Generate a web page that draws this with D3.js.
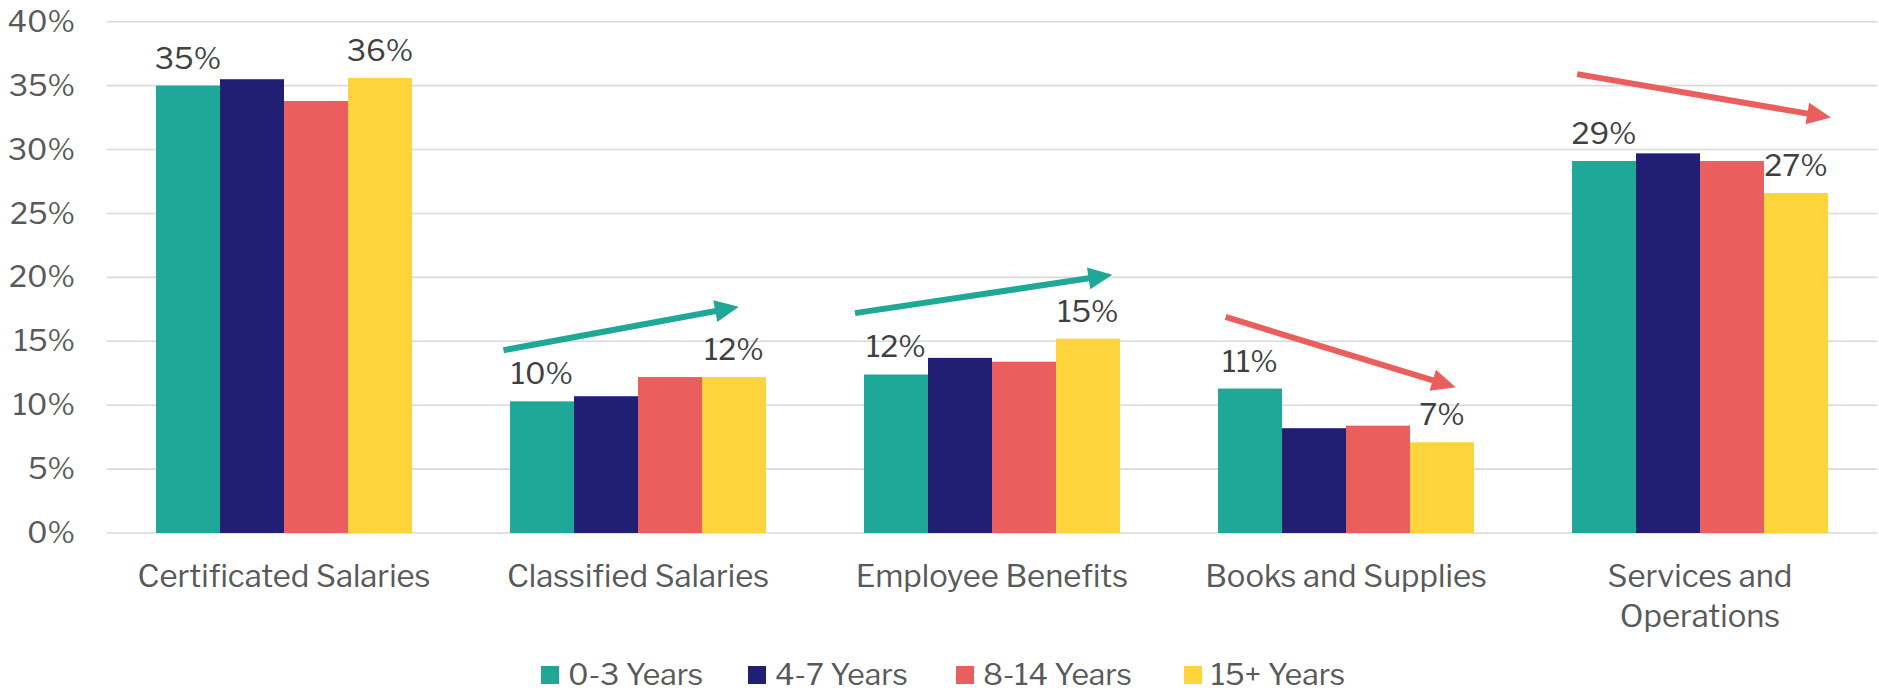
<!DOCTYPE html>
<html>
<head>
<meta charset="utf-8">
<script src="https://cdn.jsdelivr.net/npm/d3@7"></script>
<style>
  body { margin: 0; background: #fff; }
  text { font-family: "Libre Franklin", "Liberation Sans", Arial, sans-serif; }
</style>
</head>
<body>
<div id="chart"></div>
<script>
// categories and series
var categories = ["Certificated Salaries", "Classified Salaries", "Employee Benefits", "Books and Supplies", "Services and Operations"];
var seriesNames = ["0-3 Years", "4-7 Years", "8-14 Years", "15+ Years"];
var seriesColors = ["#1FA898", "#211F73", "#EA5F5E", "#FDD43B"];

// values in percent, one array per series
var years0to3 = [35.0, 10.3, 12.4, 11.3, 29.1];
var years4to7 = [35.5, 10.7, 13.7, 8.2, 29.7];
var years8to14 = [33.8, 12.2, 13.4, 8.4, 29.1];
var years15plus = [35.6, 12.2, 15.2, 7.1, 26.6];

var yTicks = [0, 5, 10, 15, 20, 25, 30, 35, 40];

// trend arrows: category, start/end as fraction of band, start/end value
var arrowCats = ["Classified Salaries", "Employee Benefits", "Books and Supplies", "Services and Operations"];
var arrowFrom = [[0.12, 14.3], [0.113, 17.2], [0.16, 16.9], [0.153, 35.9]];
var arrowTo = [[0.785, 17.7], [0.84, 20.2], [0.81, 11.4], [0.87, 32.5]];
var arrowColors = ["#1FA898", "#1FA898", "#EA5F5E", "#EA5F5E"];

var allValues = [years0to3, years4to7, years8to14, years15plus];

var W = 1879, H = 691;
var margin = { top: 21.7, right: 2, bottom: 158, left: 107 };

var svg = d3.select("#chart").append("svg")
  .attr("width", W)
  .attr("height", H);

var x0 = d3.scaleBand().domain(categories).range([margin.left, W - margin.right]).paddingInner(0).paddingOuter(0);
var x1 = d3.scaleBand().domain(seriesNames).range([0, x0.bandwidth()]).paddingInner(0).paddingOuter(0.766);
var y = d3.scaleLinear().domain([0, 40]).range([H - margin.bottom, margin.top]);
var color = d3.scaleOrdinal().domain(seriesNames).range(seriesColors);

// gridlines
svg.append("g")
  .selectAll("line")
  .data(yTicks)
  .enter()
  .append("line")
  .attr("x1", margin.left)
  .attr("x2", W - margin.right)
  .attr("y1", function (d) { return y(d); })
  .attr("y2", function (d) { return y(d); })
  .attr("stroke", "#D9D9D9")
  .attr("stroke-width", 1.6);

// y axis labels
var yAxis = svg.append("g")
  .attr("transform", "translate(" + 75 + ",0)")
  .call(d3.axisLeft(y).tickValues(yTicks).tickSize(0).tickPadding(0).tickFormat(function (d) { return d + "%"; }));
yAxis.select(".domain").remove();
yAxis.selectAll("text")
  .style("font-size", "30px")
  .attr("fill", "#595959")
  .attr("font-family", null);

// bars
var groups = svg.append("g")
  .selectAll("g")
  .data(seriesNames)
  .enter()
  .append("g")
  .attr("fill", function (d) { return color(d); });

groups.selectAll("rect")
  .data(function (s, si) {
    return categories.map(function (c, ci) { return { cat: c, s: s, v: allValues[si][ci] }; });
  })
  .enter()
  .append("rect")
  .attr("x", function (d) { return x0(d.cat) + x1(d.s); })
  .attr("width", x1.bandwidth())
  .attr("y", function (d) { return y(d.v); })
  .attr("height", function (d) { return y(0) - y(d.v); });

// data labels on first and last series
var labelled = [];
[0, 3].forEach(function (si) {
  categories.forEach(function (c, ci) {
    labelled.push({ cat: c, s: seriesNames[si], v: allValues[si][ci] });
  });
});
svg.append("g")
  .selectAll("text")
  .data(labelled)
  .enter()
  .append("text")
  .attr("x", function (d) { return x0(d.cat) + x1(d.s) + x1.bandwidth() / 2; })
  .attr("y", function (d) { return y(d.v) - 17; })
  .attr("text-anchor", "middle")
  .style("font-size", "30px")
  .attr("fill", "#404040")
  .text(function (d) { return Math.round(d.v) + "%"; });

// category labels (wrap long ones)
var catLabels = svg.append("g")
  .selectAll("text")
  .data(categories)
  .enter()
  .append("text")
  .attr("x", function (d) { return x0(d) + x0.bandwidth() / 2; })
  .attr("y", 587)
  .attr("text-anchor", "middle")
  .style("font-size", "31px")
  .attr("fill", "#595959")
  .text(function (d) { return d; });

catLabels.each(function (d) {
  var t = d3.select(this);
  if (this.getComputedTextLength() > 315) {
    var words = d.split(" ");
    var last = words.pop();
    t.text(null);
    t.append("tspan").attr("x", t.attr("x")).attr("dy", 0).text(words.join(" "));
    t.append("tspan").attr("x", t.attr("x")).attr("dy", 40).text(last);
  }
});

// trend arrows
var arrows = svg.append("g");
arrowCats.forEach(function (c, i) {
  var xa = x0(c) + arrowFrom[i][0] * x0.bandwidth(), ya = y(arrowFrom[i][1]);
  var xb = x0(c) + arrowTo[i][0] * x0.bandwidth(), yb = y(arrowTo[i][1]);
  var ang = Math.atan2(yb - ya, xb - xa);
  var headLen = 24, headW = 11;
  var bx = xb - headLen * Math.cos(ang), by = yb - headLen * Math.sin(ang);
  arrows.append("line")
    .attr("x1", xa).attr("y1", ya)
    .attr("x2", bx + 2 * Math.cos(ang)).attr("y2", by + 2 * Math.sin(ang))
    .attr("stroke", arrowColors[i])
    .attr("stroke-width", 6);
  var px = -Math.sin(ang), py = Math.cos(ang);
  arrows.append("path")
    .attr("d", "M" + xb + "," + yb +
      "L" + (bx + px * headW) + "," + (by + py * headW) +
      "L" + (bx - px * headW) + "," + (by - py * headW) + "Z")
    .attr("fill", arrowColors[i]);
});

// legend
var legendX = [541, 748, 956, 1184];
var legend = svg.append("g")
  .selectAll("g")
  .data(seriesNames)
  .enter()
  .append("g")
  .attr("transform", function (d, i) { return "translate(" + legendX[i] + ",675)"; });
legend.append("rect")
  .attr("x", 0).attr("y", -9)
  .attr("width", 18).attr("height", 18)
  .attr("fill", function (d) { return color(d); });
legend.append("text")
  .attr("x", 27)
  .attr("y", 10)
  .style("font-size", "30px")
  .attr("fill", "#595959")
  .text(function (d) { return d; });
</script>
</body>
</html>
